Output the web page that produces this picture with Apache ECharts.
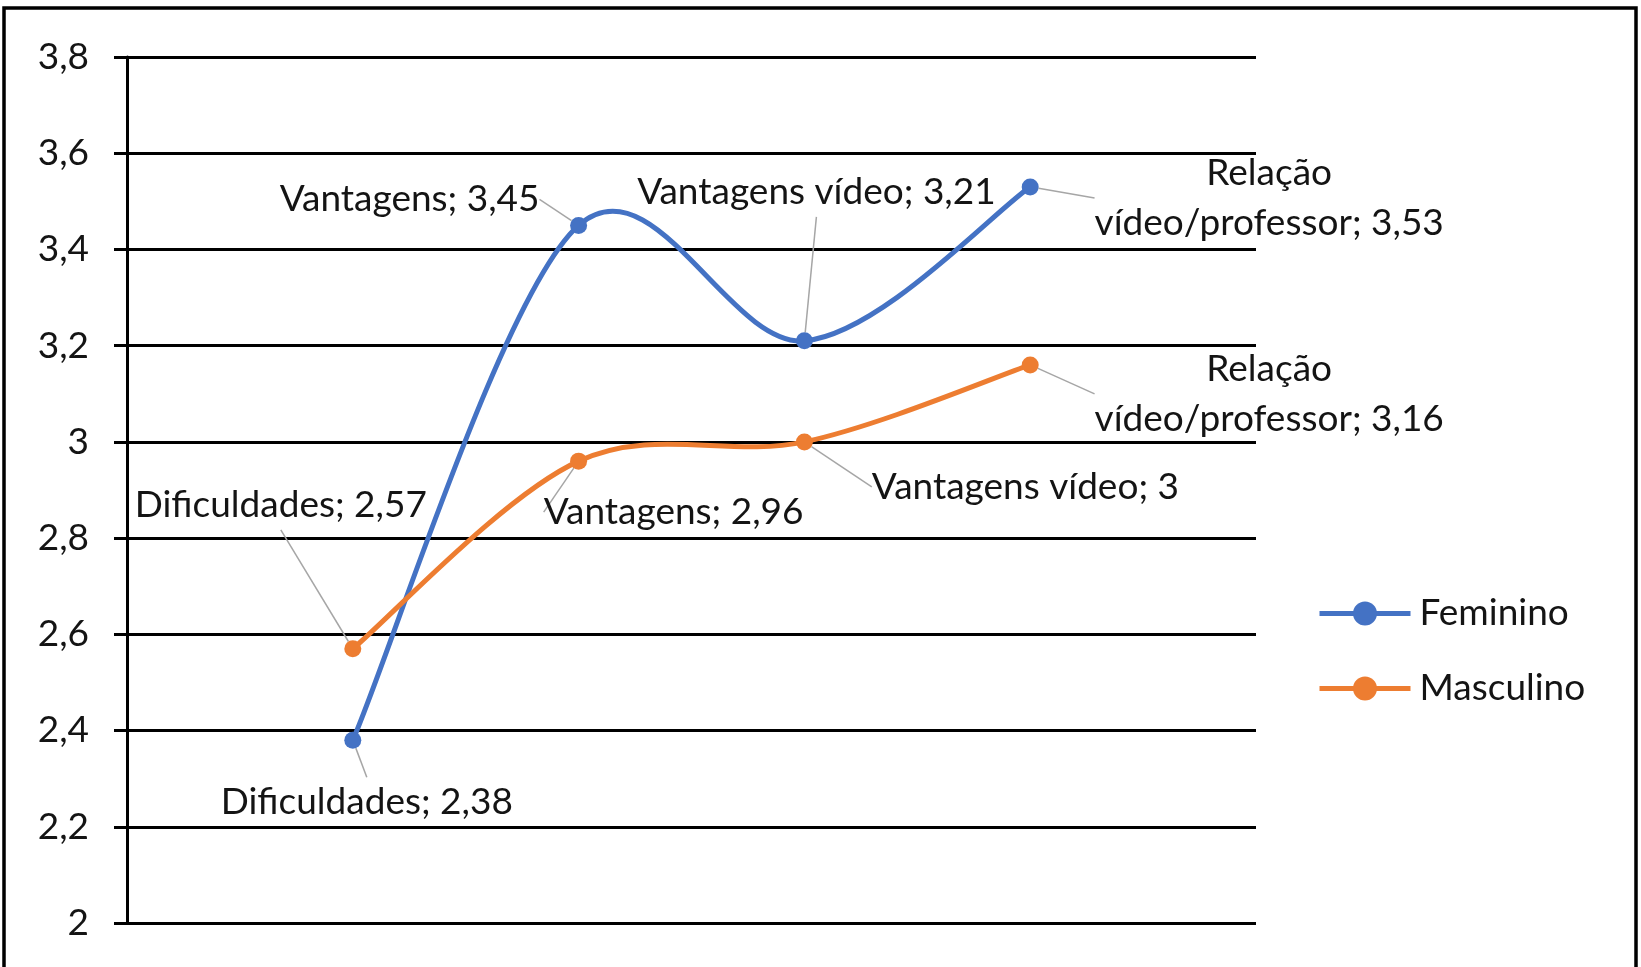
<!DOCTYPE html>
<html>
<head>
<meta charset="utf-8">
<script src="https://cdn.jsdelivr.net/npm/echarts@6/dist/echarts.min.js"></script>
<style>
  html, body { margin: 0; padding: 0; background: #fff; }
  #chart { width: 1641px; height: 967px; }
</style>
</head>
<body>
<div id="chart"></div>
<script>
'use strict';

// categories (blank slots at both ends, like the original spacing)
var categories = ['', 'Dificuldades', 'Vantagens', 'Vantagens vídeo', 'Relação vídeo/professor', ''];
var feminino = ['-', 2.38, 3.45, 3.21, 3.53, '-'];
var masculino = ['-', 2.57, 2.96, 3.00, 3.16, '-'];
var yTicks = { min: 2, max: 3.8, step: 0.2 };

// where each data label sits relative to its point (px)
var labelShift = [
  [null, [14, 62], [-169, -26], [12, -149], [239, 11], null],
  [null, [-72, -144], [95, 51], [221, 45], [239, 29], null]
];

var FONT = 'Lato';
var FS = 37;
var INK = '#141414';
var BLUE = '#4472C4';
var ORANGE = '#ED7D31';
var LW = 5;

function comma(v) {
  return String(Math.round(v * 100) / 100).replace('.', ',');
}

function labelText(p) {
  var name = p.name.replace('Relação ', 'Relação\n');
  return name + '; ' + comma(p.value);
}

var chartDom = document.getElementById('chart');
var myChart = echarts.init(chartDom);

// Excel-like smoothed curve (Catmull-Rom -> bezier), one piece per segment
function curveSeries(values, color) {
  var idx = [];
  values.forEach(function (v, i) { if (typeof v === 'number') idx.push(i); });
  var segs = [];
  for (var k = 0; k < idx.length - 1; k++) segs.push([k]);
  return {
    type: 'custom',
    coordinateSystem: 'cartesian2d',
    silent: true,
    z: 1,
    data: segs,
    renderItem: function (params, api) {
      var k = api.value(0);
      var pts = idx.map(function (i) { return api.coord([i, values[i]]); });
      var p1 = pts[k], p2 = pts[k + 1];
      var p0 = pts[k - 1] || p1, p3 = pts[k + 2] || p2;
      return {
        type: 'bezierCurve',
        shape: {
          x1: p1[0], y1: p1[1], x2: p2[0], y2: p2[1],
          cpx1: p1[0] + (p2[0] - p0[0]) / 6, cpy1: p1[1] + (p2[1] - p0[1]) / 6,
          cpx2: p2[0] - (p3[0] - p1[0]) / 6, cpy2: p2[1] - (p3[1] - p1[1]) / 6
        },
        style: { stroke: color, lineWidth: LW, fill: null, lineCap: 'round' }
      };
    }
  };
}

function pointSeries(name, data, color) {
  return {
    name: name,
    type: 'line',
    data: data,
    z: 3,
    symbol: 'circle',
    symbolSize: 17,
    lineStyle: { color: color, width: LW, opacity: 0 },
    itemStyle: { color: color },
    label: {
      show: true,
      formatter: labelText,
      fontFamily: FONT,
      fontSize: FS,
      lineHeight: 50,
      color: INK,
      align: 'center',
      verticalAlign: 'middle'
    },
    labelLine: {
      show: true,
      lineStyle: { color: '#a6a6a6', width: 1.5 }
    },
    emphasis: { disabled: true }
  };
}

var option = {
  animation: false,
  graphic: [{
    type: 'rect',
    shape: { x: 4, y: 8, width: 1632, height: 975 },
    style: { fill: null, stroke: '#000', lineWidth: 3.5 },
    silent: true
  }],
  grid: { left: 127, right: 385, top: 57, bottom: 44 },
  legend: {
    orient: 'vertical',
    left: 1312,
    top: 590,
    itemWidth: 91,
    itemHeight: 30,
    itemGap: 38,
    lineStyle: { opacity: 1, width: LW },
    textStyle: { fontFamily: FONT, fontSize: FS, color: INK, padding: [0, 0, 0, 4] },
    data: ['Feminino', 'Masculino']
  },
  xAxis: {
    type: 'category',
    data: categories,
    boundaryGap: false,
    axisLine: { show: false },
    axisTick: { show: false },
    axisLabel: { show: false },
    splitLine: { show: false }
  },
  yAxis: {
    type: 'value',
    min: yTicks.min,
    max: yTicks.max,
    interval: yTicks.step,
    axisLine: { show: true, lineStyle: { color: '#000', width: 3 } },
    axisTick: { show: true, length: 13, lineStyle: { color: '#000', width: 3 } },
    axisLabel: {
      margin: 38,
      fontFamily: FONT,
      fontSize: FS,
      color: INK,
      formatter: function (v) { return comma(v); }
    },
    splitLine: { show: true, lineStyle: { color: '#000', width: 3 } }
  },
  series: [
    curveSeries(feminino, BLUE),
    curveSeries(masculino, ORANGE),
    pointSeries('Feminino', feminino, BLUE),
    pointSeries('Masculino', masculino, ORANGE)
  ],
  labelLayout: function (params) {
    var s = labelShift[params.seriesIndex - 2] && labelShift[params.seriesIndex - 2][params.dataIndex];
    if (!s) return {};
    return {
      x: params.rect.x + params.rect.width / 2 + s[0],
      y: params.rect.y + params.rect.height / 2 + s[1],
      align: 'center',
      verticalAlign: 'middle'
    };
  }
};

myChart.setOption(option);
</script>
</body>
</html>
